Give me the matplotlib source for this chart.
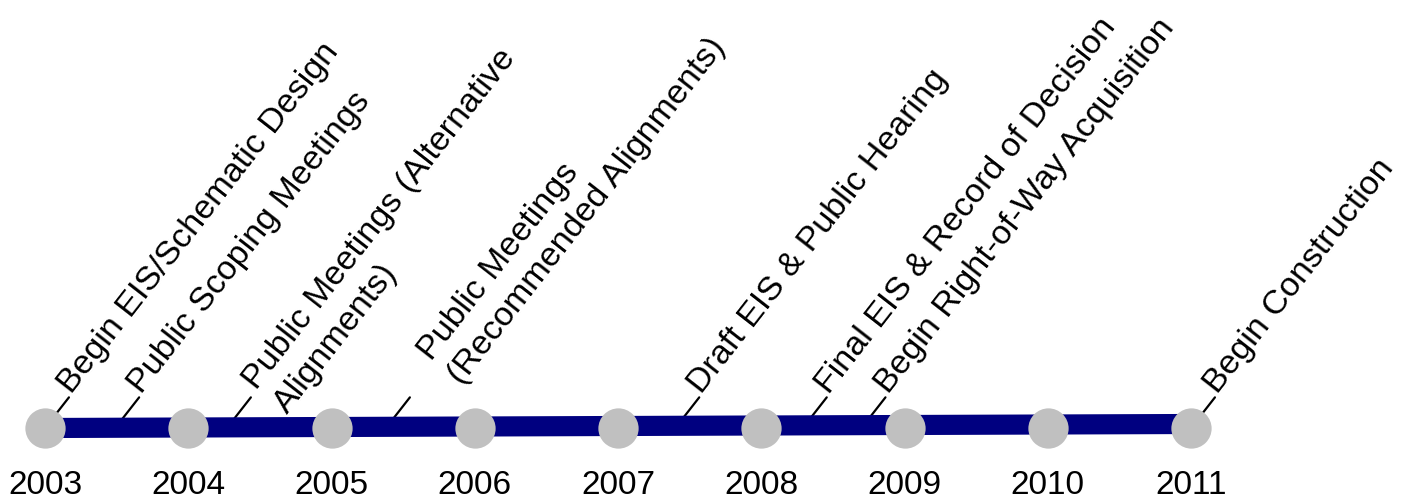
import matplotlib
matplotlib.use("Agg")
import matplotlib.pyplot as plt
import numpy as np

plt.rcParams['font.family'] = ['Liberation Sans', 'DejaVu Sans']

years = [2003, 2004, 2005, 2006, 2007, 2008, 2009, 2010, 2011]
year_labels = [str(y) for y in years]
track_x = [2003, 2011]
track_y = [0, 4]

event_x = [2003.0, 2003.49, 2004.27, 2005.38, 2007.40, 2008.29, 2008.70, 2011.0]
event_labels = [
    "Begin EIS/Schematic Design",
    "Public Scoping Meetings",
    "Public Meetings (Alternative\nAlignments)",
    "Public Meetings\n(Recommended Alignments)",
    "Draft EIS & Public Hearing",
    "Final EIS & Record of Decision",
    "Begin Right-of-Way Acquisition",
    "Begin Construction",
]

# layout: extra label offsets (along text, perpendicular up) in points
label_shift = [(0, 0), (0, 0), (4, 0), (27, 4), (0, 0), (0, 0), (0, 0), (0, 0)]

W, H = 1410, 502
fig = plt.figure(figsize=(W / 100, H / 100), dpi=100)
ax = fig.add_axes([0, 0, 1, 1])
px_per_year = 143.25
x0_px = 45
ax.set_xlim(2003 - x0_px / px_per_year, 2003 + (W - x0_px) / px_per_year)
ax.set_ylim(-(H - 429), 429)
ax.axis('off')

# track
ax.plot(track_x, track_y, color='#000080', lw=14.5, solid_capstyle='butt', zorder=2)
# year circles
ax.plot(years, np.zeros(len(years)), 'o', ms=29, color='#c0c0c0', mec='none', zorder=3)
# year labels
for x, lab in zip(years, year_labels):
    ax.text(x, -57, lab, ha='center', va='center', fontsize=24, color='black', zorder=4)

ang = 52.0
rad = np.deg2rad(ang)
ux, uy = np.cos(rad), np.sin(rad)      # along text
px_, py_ = -np.sin(rad), np.cos(rad)   # perpendicular (up-left)
L = 28.0  # points
gap = 3.0
line_step = 27.5  # points between baselines
fs = 24.5
for x, lab, (sa, sp) in zip(event_x, event_labels, label_shift):
    ax.annotate('', xy=(x, 0), xytext=(L * ux, L * uy), textcoords='offset points',
                arrowprops=dict(arrowstyle='-', color='black', lw=1.6,
                                shrinkA=0, shrinkB=0), zorder=1)
    a0 = L + gap + sa
    for i, part in enumerate(lab.split('\n')):
        p = sp - i * line_step
        ox = a0 * ux + p * px_
        oy = a0 * uy + p * py_
        ax.annotate(part, xy=(x, 0), xytext=(ox, oy), textcoords='offset points',
                    rotation=ang, rotation_mode='anchor', ha='left', va='baseline',
                    fontsize=fs, color='black', zorder=4)

fig.savefig('out.png', dpi=100)
